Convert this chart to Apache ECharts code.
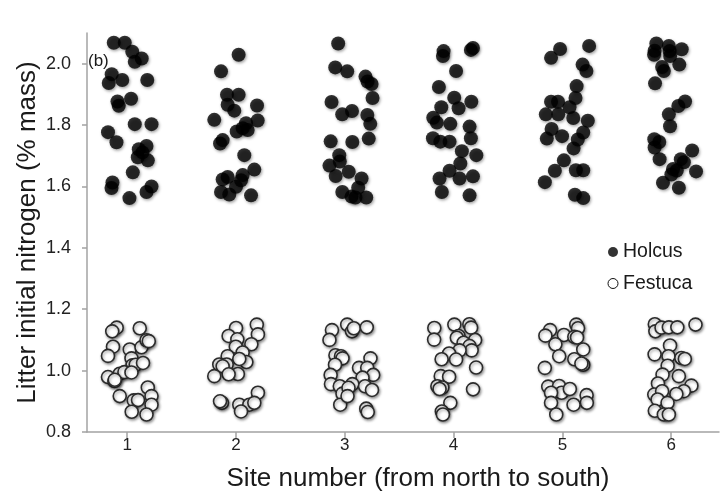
<!DOCTYPE html>
<html>
<head>
<meta charset="utf-8">
<script src="https://cdn.jsdelivr.net/npm/echarts@6/dist/echarts.min.js"></script>
<style>
html,body{margin:0;padding:0;background:#fff;}
#chart{width:721px;height:494px;}
</style>
</head>
<body>
<div id="chart"></div>
<script>
// Site numbers (x axis categories)
const sites = [1, 2, 3, 4, 5, 6];
// Y axis range and tick labels
const yMin = 0.8, yMax = 2.1;
const yTicks = [0.8, 1.0, 1.2, 1.4, 1.6, 1.8, 2.0];

// Each point: [horizontal jitter from site (site units), litter initial N (% mass)]
const holcusSite1 = [[-0.124,2.068],[-0.023,2.068],[0.046,2.039],[0.133,2.017],[0.069,2.006],[-0.143,1.966],[-0.170,1.937],[-0.046,1.947],[0.184,1.947],[-0.090,1.877],[-0.078,1.863],[0.035,1.886],[0.069,1.803],[0.223,1.803],[-0.177,1.777],[-0.099,1.744],[0.177,1.732],[0.106,1.721],[0.140,1.711],[0.097,1.695],[0.189,1.685],[0.051,1.646],[-0.136,1.613],[-0.145,1.595],[0.223,1.600],[0.177,1.582],[0.020,1.562]];
const holcusSite2 = [[0.024,2.029],[-0.138,1.975],[-0.083,1.899],[0.024,1.899],[-0.077,1.866],[-0.016,1.847],[-0.200,1.817],[0.193,1.864],[0.199,1.815],[0.092,1.806],[0.061,1.790],[0.006,1.779],[0.107,1.784],[-0.123,1.751],[-0.147,1.740],[0.076,1.702],[0.168,1.655],[0.061,1.637],[-0.077,1.631],[-0.123,1.623],[0.000,1.599],[-0.138,1.582],[-0.062,1.574],[0.138,1.571],[0.046,1.620]];
const holcusSite3 = [[-0.061,2.066],[-0.088,1.988],[0.022,1.975],[0.190,1.958],[0.209,1.942],[0.246,1.934],[0.255,1.888],[-0.122,1.875],[-0.024,1.835],[0.066,1.846],[0.207,1.833],[0.234,1.804],[0.220,1.756],[-0.130,1.747],[0.069,1.745],[-0.051,1.702],[-0.141,1.668],[-0.046,1.681],[0.036,1.648],[-0.084,1.634],[0.154,1.626],[-0.023,1.582],[0.062,1.567],[0.098,1.564],[0.197,1.564],[0.123,1.596]];
const holcusSite4 = [[-0.092,2.041],[-0.098,2.025],[0.178,2.051],[0.159,2.045],[0.023,1.976],[-0.135,1.924],[0.006,1.889],[0.163,1.876],[-0.113,1.858],[0.046,1.855],[-0.187,1.824],[-0.154,1.808],[-0.030,1.804],[0.147,1.795],[-0.190,1.757],[-0.122,1.746],[-0.037,1.746],[0.159,1.757],[0.076,1.715],[0.209,1.702],[0.062,1.675],[-0.037,1.651],[0.055,1.626],[0.178,1.633],[-0.129,1.626],[-0.108,1.582],[0.147,1.571]];
const holcusSite5 = [[-0.021,2.048],[-0.104,2.019],[0.246,2.058],[0.186,1.997],[0.221,1.976],[0.131,1.927],[0.121,1.888],[-0.104,1.876],[-0.040,1.876],[0.066,1.858],[-0.152,1.835],[-0.038,1.835],[0.100,1.823],[0.234,1.814],[-0.099,1.787],[0.192,1.776],[-0.143,1.756],[-0.003,1.764],[0.142,1.753],[0.103,1.724],[0.014,1.685],[-0.069,1.651],[0.124,1.653],[0.192,1.653],[-0.161,1.614],[0.115,1.573],[0.192,1.562]];
const holcusSite6 = [[-0.136,2.066],[-0.152,2.042],[-0.157,2.029],[-0.021,2.058],[-0.014,2.041],[0.097,2.047],[-0.009,2.025],[0.075,1.997],[-0.083,1.989],[-0.067,1.976],[-0.148,1.936],[0.128,1.877],[0.066,1.862],[-0.021,1.835],[-0.010,1.796],[-0.155,1.754],[-0.109,1.745],[-0.152,1.727],[0.193,1.717],[-0.106,1.689],[0.089,1.689],[0.117,1.679],[0.017,1.657],[0.052,1.652],[0.229,1.649],[0.002,1.639],[-0.075,1.612],[0.071,1.596]];

const festucaSite1 = [[-0.097,1.140],[-0.138,1.128],[0.115,1.138],[-0.131,1.078],[-0.177,1.048],[0.023,1.069],[0.131,1.076],[0.177,1.099],[0.198,1.096],[0.039,1.040],[0.048,1.017],[0.078,1.019],[0.145,1.025],[-0.177,0.979],[-0.118,0.966],[-0.069,0.990],[-0.026,0.995],[0.039,0.994],[-0.069,0.917],[0.060,0.903],[0.099,0.904],[0.189,0.945],[0.223,0.917],[0.223,0.889],[0.041,0.866],[0.177,0.857],[-0.115,0.970]];
const festucaSite2 = [[0.000,1.139],[0.191,1.150],[0.201,1.118],[-0.068,1.113],[0.012,1.102],[-0.002,1.078],[0.141,1.086],[0.061,1.059],[-0.077,1.047],[0.095,1.028],[0.030,1.038],[-0.154,1.020],[-0.086,1.020],[-0.123,1.014],[0.017,0.989],[-0.068,0.988],[-0.200,0.982],[0.201,0.928],[-0.129,0.895],[-0.147,0.900],[0.030,0.889],[0.122,0.889],[0.168,0.895],[0.046,0.867]];
const festucaSite3 = [[0.022,1.150],[0.066,1.128],[0.083,1.138],[0.202,1.141],[-0.118,1.132],[-0.141,1.100],[-0.086,1.050],[-0.035,1.047],[-0.021,1.040],[-0.090,1.019],[0.236,1.040],[0.131,1.009],[0.206,1.009],[0.261,0.986],[-0.130,0.986],[0.163,0.977],[-0.127,0.956],[0.069,0.956],[0.186,0.949],[0.250,0.937],[-0.046,0.949],[-0.021,0.925],[0.034,0.944],[-0.042,0.889],[0.197,0.876],[0.211,0.865],[0.025,0.917]];
const festucaSite4 = [[-0.177,1.139],[0.007,1.150],[0.145,1.151],[0.161,1.140],[-0.179,1.101],[0.046,1.113],[0.030,1.107],[0.198,1.100],[0.092,1.091],[0.147,1.080],[0.166,1.066],[0.055,1.066],[-0.041,1.056],[-0.110,1.037],[0.023,1.036],[0.207,1.010],[-0.118,0.982],[-0.041,0.980],[-0.149,0.949],[-0.103,0.945],[-0.129,0.940],[0.179,0.939],[-0.030,0.895],[-0.108,0.867],[-0.098,0.857]];
const festucaSite5 = [[0.128,1.150],[0.144,1.138],[-0.113,1.132],[-0.156,1.114],[0.014,1.116],[0.110,1.110],[0.135,1.108],[-0.064,1.086],[0.192,1.069],[-0.029,1.047],[0.110,1.037],[0.192,1.019],[0.175,1.023],[-0.161,1.009],[-0.130,0.948],[-0.030,0.950],[-0.007,0.928],[0.069,0.940],[-0.104,0.928],[0.223,0.920],[0.225,0.895],[-0.104,0.895],[0.103,0.889],[-0.056,0.857]];
const festucaSite6 = [[-0.150,1.151],[-0.145,1.128],[-0.088,1.140],[-0.021,1.141],[0.057,1.141],[0.224,1.150],[-0.010,1.082],[-0.152,1.053],[-0.024,1.047],[0.094,1.041],[0.126,1.038],[-0.032,1.016],[0.071,0.982],[-0.079,0.987],[-0.121,0.958],[0.186,0.951],[0.117,0.933],[0.048,0.924],[-0.155,0.922],[-0.083,0.933],[-0.124,0.906],[-0.033,0.895],[-0.150,0.869],[-0.067,0.857],[-0.021,0.857]];

const holcusBySite = [holcusSite1, holcusSite2, holcusSite3, holcusSite4, holcusSite5, holcusSite6];
const festucaBySite = [festucaSite1, festucaSite2, festucaSite3, festucaSite4, festucaSite5, festucaSite6];

function placeAll(groups) {
  const out = [];
  groups.forEach((pts, i) => pts.forEach(p => out.push([sites[i] + p[0], p[1]])));
  return out;
}
const holcusData = placeAll(holcusBySite);
const festucaData = placeAll(festucaBySite);

const FONT = '"Liberation Sans", Arial, Helvetica, sans-serif';
const axisGray = '#a3a3a3';

const chart = echarts.init(document.getElementById('chart'), null, {renderer: 'canvas'});
chart.setOption({
  animation: false,
  backgroundColor: '#ffffff',
  textStyle: {fontFamily: FONT},
  grid: {left: 87, right: 2, top: 33, bottom: 62, containLabel: false, outerBoundsMode: 'none'},
  xAxis: {
    type: 'value',
    min: 0.63, max: 6.44,
    name: 'Site number (from north to south)',
    nameLocation: 'middle',
    nameGap: 34,
    nameMoveOverlap: false,
    nameTextStyle: {fontSize: 26, color: '#1a1a1a', fontFamily: FONT, padding: [0, 0, 0, 30]},
    axisLine: {show: true, onZero: false, lineStyle: {color: axisGray, width: 1.5}},
    axisTick: {show: true, length: 6, customValues: sites, lineStyle: {color: axisGray, width: 1.5}},
    axisLabel: {customValues: sites, margin: 5, fontSize: 17, color: '#222', fontFamily: FONT,
      formatter: v => String(Math.round(v))},
    splitLine: {show: false}
  },
  yAxis: {
    type: 'value',
    min: yMin, max: yMax,
    name: 'Litter initial nitrogen (% mass)',
    nameLocation: 'middle',
    nameGap: 46,
    nameMoveOverlap: false,
    nameTextStyle: {fontSize: 26, color: '#1a1a1a', fontFamily: FONT},
    axisLine: {show: true, onZero: false, lineStyle: {color: axisGray, width: 1.5}},
    axisTick: {show: true, length: 5, customValues: yTicks, lineStyle: {color: axisGray, width: 1.5}},
    axisLabel: {customValues: yTicks, margin: 16, fontSize: 18, color: '#222', fontFamily: FONT,
      formatter: v => v.toFixed(1)},
    splitLine: {show: false}
  },
  legend: {
    orient: 'vertical',
    left: 602.5, top: 237,
    itemWidth: 10, itemHeight: 10, itemGap: 11.5,
    textStyle: {fontSize: 19.5, color: '#1a1a1a', fontFamily: FONT},
    data: [
      {name: 'Holcus', icon: 'circle', itemStyle: {color: '#000', borderWidth: 0, shadowBlur: 0, shadowOffsetX: 0, shadowOffsetY: 0}},
      {name: 'Festuca', icon: 'circle', itemStyle: {color: '#fff', borderColor: '#111', borderWidth: 1, shadowBlur: 0, shadowOffsetX: 0, shadowOffsetY: 0}}
    ]
  },
  graphic: [{
    type: 'text', left: 88, top: 53,
    style: {text: '(b)', fontSize: 17, fill: '#1a1a1a', fontFamily: FONT}
  }],
  series: [
    {
      name: 'Holcus', type: 'scatter', symbol: 'circle', symbolSize: 14,
      itemStyle: {color: '#000', shadowBlur: 3, shadowColor: 'rgba(0,0,0,0.45)', shadowOffsetX: 1, shadowOffsetY: 1.5},
      data: holcusData
    },
    {
      name: 'Festuca', type: 'scatter', symbol: 'circle', symbolSize: 13,
      itemStyle: {color: '#fff', borderColor: '#2b2b2b', borderWidth: 1.6, opacity: 1,
        shadowBlur: 3, shadowColor: 'rgba(0,0,0,0.4)', shadowOffsetX: 1, shadowOffsetY: 1.5},
      data: festucaData
    }
  ]
});
</script>
</body>
</html>
